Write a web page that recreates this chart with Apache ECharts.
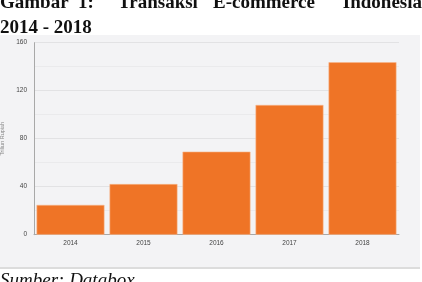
<!DOCTYPE html>
<html>
<head>
<meta charset="utf-8">
<script src="https://cdn.jsdelivr.net/npm/echarts@6/dist/echarts.min.js"></script>
<style>
  html, body { margin: 0; padding: 0; background: #fff; }
  #chart { width: 422px; height: 282px; }
</style>
</head>
<body>
<div id="chart"></div>
<script>
// Transaksi e-commerce Indonesia (triliun rupiah)
const years = ['2014', '2015', '2016', '2017', '2018']
const values = [24.8, 42.2, 69.2, 108.1, 143.7]
const yTicks = [0, 40, 80, 120, 160]

const titleWords = ['Gambar', '1:', 'Transaksi', 'E-commerce', 'Indonesia']
const titleLine2 = '2014 - 2018'
const caption = 'Sumber: Databox'
const yName = 'Triliun Rupiah'

const serif = '"Liberation Serif", "DejaVu Serif", serif'
const sans = '"Liberation Sans", Arial, sans-serif'
const barColor = '#ef7426'

const chart = echarts.init(document.getElementById('chart'))

// where each justified word of the first title line starts
const wordX = [0, 78, 118, 213, 422]

const graphics = [
  // light chart panel
  { type: 'rect', z: -10, shape: { x: 0, y: 35, width: 420, height: 232 }, style: { fill: '#f3f3f5' } },
  { type: 'line', shape: { x1: 0, y1: 268, x2: 420, y2: 268 }, style: { stroke: '#b9b9b9', lineWidth: 1 } },
  {
    type: 'text', left: 0, top: 19,
    style: { text: titleLine2, font: 'bold 19px ' + serif, fill: '#111' },
  },
  {
    type: 'text', left: 0, top: 271,
    style: { text: caption, font: 'italic 19px ' + serif, fill: '#111' },
  },
]
titleWords.forEach((w, i) => {
  const last = i === titleWords.length - 1
  graphics.push({
    type: 'text',
    x: wordX[i],
    y: 3,
    style: {
      text: w,
      font: 'bold 19px ' + serif,
      fill: '#111',
      align: last ? 'right' : 'left',
      verticalAlign: 'middle',
    },
  })
})

const option = {
  animation: false,
  graphic: graphics,
  grid: { left: 34, right: 23, top: 42.7, bottom: 47.3, outerBoundsMode: 'none' },
  xAxis: {
    type: 'category',
    data: years,
    axisTick: { show: false },
    axisLine: { lineStyle: { color: '#a8a8a8', width: 1 } },
    axisLabel: { color: '#444', fontSize: 6.5, fontFamily: sans, margin: 5 },
  },
  yAxis: {
    type: 'value',
    min: yTicks[0],
    max: yTicks[yTicks.length - 1],
    interval: 40,
    name: yName,
    nameLocation: 'middle',
    nameGap: 22,
    nameTextStyle: { color: '#888', fontSize: 5.5, fontFamily: sans },
    axisLine: { show: true, lineStyle: { color: '#a8a8a8', width: 1 } },
    axisTick: { show: false },
    axisLabel: { color: '#444', fontSize: 6.5, fontFamily: sans, margin: 7 },
    splitLine: { lineStyle: { color: '#e2e2e4', width: 1 } },
    minorTick: { show: false, splitNumber: 2 },
    minorSplitLine: { show: true, lineStyle: { color: '#eaeaec', width: 1 } },
  },
  series: [
    {
      type: 'bar',
      data: values,
      barCategoryGap: '7%',
      itemStyle: { color: barColor, borderColor: '#f6b68a', borderWidth: 0.6 },
    },
  ],
}

chart.setOption(option)
</script>
</body>
</html>
